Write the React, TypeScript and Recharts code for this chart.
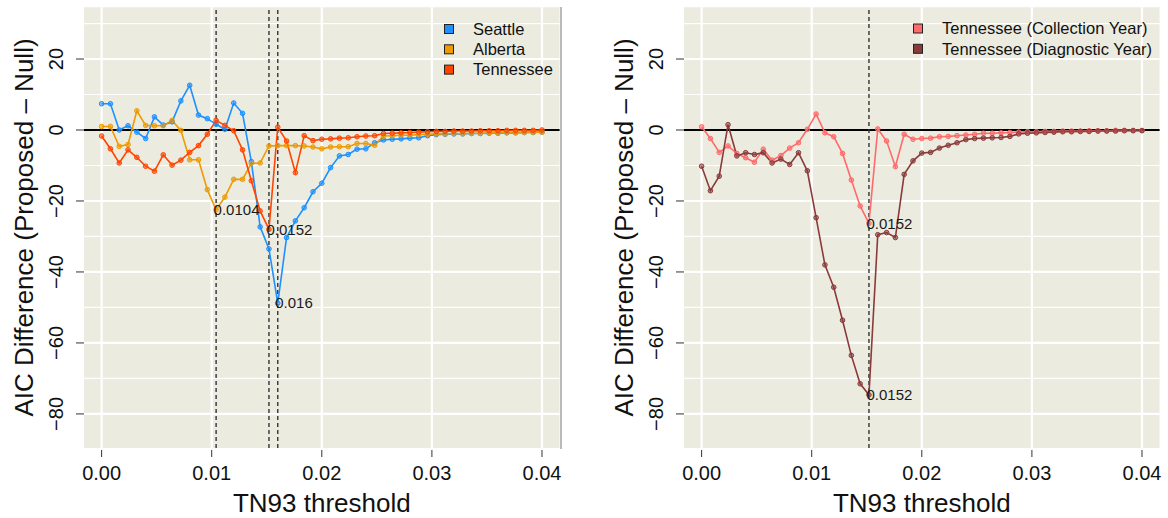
import React from 'react';
import { LineChart, Line, XAxis, YAxis, ReferenceLine, ReferenceArea } from 'recharts';

const thresholds = [
  0, 0.0008, 0.0016, 0.0024, 0.0032, 0.004, 0.0048, 0.0056, 0.0064, 0.0072,
  0.008, 0.0088, 0.0096, 0.0104, 0.0112, 0.012, 0.0128, 0.0136, 0.0144, 0.0152,
  0.016, 0.0168, 0.0176, 0.0184, 0.0192, 0.02, 0.0208, 0.0216, 0.0224, 0.0232,
  0.024, 0.0248, 0.0256, 0.0264, 0.0272, 0.028, 0.0288, 0.0296, 0.0304, 0.0312,
  0.032, 0.0328, 0.0336, 0.0344, 0.0352, 0.036, 0.0368, 0.0376, 0.0384, 0.0392, 0.04,
];

const seattle = [
  7.4, 7.4, 0, 1.2, -0.6, -2.4, 3.7, 1.4, 2.3, 8.2, 12.6, 4.2, 3.2, 1.6,
  0.2, 7.6, 4.7, -8.9, -27.3, -33.5, -48.8, -30.3, -25.6, -21.9, -17.4, -15.0, -10.6,
  -7.3, -6.9, -5.4, -5.3, -3.6, -2.8, -2.6, -2.5, -2.3, -2.2, -1.6, -1.3,
  -1.2, -1.1, -1.1, -1.0, -1.0, -0.9, -0.9, -0.8, -0.8, -0.7, -0.7, -0.6,
];
const alberta = [
  1.0, 1.0, -4.6, -4.1, 5.4, 1.3, 1.2, 1.2, 2.7, -0.1, -8.4, -8.4, -16.8, -22.5,
  -18.9, -13.9, -13.9, -9.4, -9.3, -4.5, -4.4, -4.4, -4.4, -4.5, -4.8, -5.3, -4.8,
  -4.7, -4.7, -3.8, -3.8, -4.3, -1.7, -1.6, -1.5, -1.5, -1.3, -1.2, -1.1,
  -1.1, -1.0, -1.0, -0.9, -0.9, -0.8, -0.8, -0.7, -0.7, -0.7, -0.6, -0.6,
];
const tennessee = [
  -1.7, -5.3, -9.3, -5.6, -7.7, -10.2, -11.6, -7.0, -9.9, -8.5, -6.3, -4.4, -1.2, 2.7,
  1.3, -0.2, -5.6, -14.3, -22.8, -28.0, 0.8, -3.1, -12.0, -1.6, -3.0, -2.6, -2.5,
  -2.3, -2.2, -1.9, -1.7, -1.6, -1.0, -0.9, -0.8, -0.7, -0.6, -0.5, -0.4,
  -0.4, -0.3, -0.3, -0.3, -0.2, -0.2, -0.2, -0.1, -0.1, -0.1, -0.1, 0,
];
const collectionYear = [
  0.9, -2.4, -6.3, -4.5, -6.6, -7.8, -9.1, -5.4, -8.5, -7.2, -5.1, -3.6,
  0.2, 4.5, -0.8, -1.9, -6.6, -14.1, -21.4, -26.3, 0.3, -3.1, -10.3, -1.2,
  -2.6, -2.4, -2.3, -1.9, -1.8, -1.6, -1.4, -1.2, -0.9, -0.9, -0.8, -0.7, -0.6,
  -0.5, -0.5, -0.4, -0.4, -0.3, -0.3, -0.3, -0.2, -0.2, -0.2, -0.1, -0.1, -0.1, -0.1,
];
const diagnosticYear = [
  -10.2, -17.1, -13.0, 1.5, -7.3, -6.4, -6.9, -6.4, -9.3, -8.2, -9.7, -6.4,
  -11.5, -24.7, -38.0, -44.3, -53.6, -63.5, -71.5, -74.6, -29.5, -28.9, -30.3, -12.5,
  -8.7, -6.5, -6.3, -5.1, -4.3, -3.6, -2.7, -2.4, -2.3, -2.2, -2.1, -1.8, -1.1,
  -0.9, -0.8, -0.7, -0.6, -0.5, -0.5, -0.4, -0.4, -0.3, -0.3, -0.3, -0.2, -0.2, -0.2,
];

const xTicks = [0, 0.01, 0.02, 0.03, 0.04];
const xTickLabels = ['0.00', '0.01', '0.02', '0.03', '0.04'];
const yTicks = [-80, -60, -40, -20, 0, 20];
const yTickLabels = ['\u221280', '\u221260', '\u221240', '\u221220', '0', '20'];
const yMinor = [-70, -50, -30, -10, 10, 30];
const X_DOMAIN: [number, number] = [-0.0016, 0.0416];
const Y_DOMAIN: [number, number] = [-89.6, 34.6];

const leftVLines = [0.0104, 0.0152, 0.016];
const rightVLines = [0.0152];

const FONT = '"Liberation Sans", Arial, Helvetica, sans-serif';
const BG = '#ECEBE0';

const leftRows = thresholds.map((t, i) => ({ t, seattle: seattle[i], alberta: alberta[i], tennessee: tennessee[i] }));
const rightRows = thresholds.map((t, i) => ({ t, collection: collectionYear[i], diagnostic: diagnosticYear[i] }));

type SeriesDef = { key: string; name: string; color: string; labelIdx?: number; labelText?: string };

const leftSeries: SeriesDef[] = [
  { key: 'seattle', name: 'Seattle', color: '#1E90FF', labelIdx: 20, labelText: '0.016' },
  { key: 'alberta', name: 'Alberta', color: '#EE9A00', labelIdx: 13, labelText: '0.0104' },
  { key: 'tennessee', name: 'Tennessee', color: '#FF4500', labelIdx: 19, labelText: '0.0152' },
];
const rightSeries: SeriesDef[] = [
  { key: 'collection', name: 'Tennessee (Collection Year)', color: '#FF6A6A', labelIdx: 19, labelText: '0.0152' },
  { key: 'diagnostic', name: 'Tennessee (Diagnostic Year)', color: '#8B3A3A', labelIdx: 19, labelText: '0.0152' },
];

const XTick = (props: any) => {
  const { x, y, payload } = props;
  const idx = xTicks.indexOf(payload.value);
  return (
    <g>
      <line x1={x} x2={x} y1={y + 2} y2={y + 9} stroke="#333" strokeWidth={1} />
      <text x={x} y={y + 32} textAnchor="middle" fontSize={20} fontFamily={FONT} fill="#111">
        {idx >= 0 ? xTickLabels[idx] : String(payload.value)}
      </text>
    </g>
  );
};

const YTick = (props: any) => {
  const { x, y, payload } = props;
  const idx = yTicks.indexOf(payload.value);
  const tx = x - 21;
  return (
    <g>
      <line x1={x - 8} x2={x} y1={y} y2={y} stroke="#333" strokeWidth={1} />
      <text x={tx} y={y} transform={`rotate(-90, ${tx}, ${y})`} textAnchor="middle" fontSize={20} fontFamily={FONT} fill="#111">
        {idx >= 0 ? yTickLabels[idx] : String(payload.value)}
      </text>
    </g>
  );
};

const makeLabel = (idx?: number, text?: string) => (props: any) => {
  if (idx === undefined || props.index !== idx) return <g />;
  return (
    <text x={props.x - 2.5} y={props.y} dy="0.35em" fontSize={15} fontFamily={FONT} fill="#1a1a1a">
      {text}
    </text>
  );
};

const Panel = ({ rows, series, vlines, width }: { rows: any[]; series: SeriesDef[]; vlines: number[]; width: number }) => (
  <LineChart width={width} height={518} data={rows} margin={{ top: 7.2, right: width - 559.6, bottom: 0, left: 0 }}>
    <XAxis
      dataKey="t"
      type="number"
      domain={X_DOMAIN}
      ticks={xTicks}
      interval={0}
      allowDataOverflow
      tickSize={0}
      tickMargin={0}
      axisLine={false}
      tick={<XTick />}
      height={70}
    />
    <YAxis
      type="number"
      domain={Y_DOMAIN}
      ticks={yTicks}
      interval={0}
      allowDataOverflow
      tickSize={0}
      tickMargin={0}
      axisLine={false}
      tick={<YTick />}
      width={84}
    />
    <ReferenceArea x1={X_DOMAIN[0]} x2={X_DOMAIN[1]} y1={Y_DOMAIN[0]} y2={Y_DOMAIN[1]} fill={BG} fillOpacity={1} stroke="none" />
    {yMinor.map((v) => (
      <ReferenceLine key={'ym' + v} y={v} stroke="#FFFFFF" strokeWidth={1.2} />
    ))}
    {yTicks.map((v) => (
      <ReferenceLine key={'yM' + v} y={v} stroke="#FFFFFF" strokeWidth={2.2} />
    ))}
    {xTicks.map((v) => (
      <ReferenceLine key={'xM' + v} x={v} stroke="#FFFFFF" strokeWidth={2.2} />
    ))}
    <ReferenceLine y={0} stroke="#000000" strokeWidth={2} />
    {vlines.map((v) => (
      <ReferenceLine key={'vl' + v} x={v} stroke="#333333" strokeWidth={1.4} strokeDasharray="4 3" />
    ))}
    {series.map((s) => (
      <Line
        key={s.key}
        dataKey={s.key}
        name={s.name}
        type="linear"
        stroke={s.color}
        strokeWidth={1.6}
        dot={{ r: 2.3, fill: s.color, fillOpacity: 0.55, stroke: s.color, strokeWidth: 1 }}
        activeDot={false}
        isAnimationActive={false}
        label={makeLabel(s.labelIdx, s.labelText)}
      />
    ))}
  </LineChart>
);

const LegendBlock = ({ series, left, textLeft, top }: { series: SeriesDef[]; left: number; textLeft: number; top: number }) => (
  <g>
    {series.map((s, i) => (
      <g key={s.key}>
        <rect x={left} y={top + i * 20.3 - 4.5} width={9} height={9} fill={s.color} stroke="#222" strokeWidth={1} />
        <text x={textLeft} y={top + i * 20.3} dy="0.35em" fontSize={16.5} fontFamily={FONT} fill="#111">
          {s.name}
        </text>
      </g>
    ))}
  </g>
);

const Titles = ({ offset }: { offset: number }) => (
  <g>
    <text
      x={offset + 33}
      y={227.5}
      transform={`rotate(-90, ${offset + 33}, 227.5)`}
      textAnchor="middle"
      fontSize={26}
      fontFamily={FONT}
      fill="#111"
    >
      AIC Difference (Proposed – Null)
    </text>
    <text x={offset + 321.8} y={512} textAnchor="middle" fontSize={26} fontFamily={FONT} fill="#111">
      TN93 threshold
    </text>
  </g>
);

export default function App() {
  return (
    <div style={{ position: 'absolute', left: 0, top: 0, width: 1168, height: 518, background: '#FFFFFF', fontFamily: FONT, overflow: 'hidden' }}>
      <div style={{ position: 'absolute', left: 0, top: 0 }}>
        <Panel rows={leftRows} series={leftSeries} vlines={leftVLines} width={600} />
      </div>
      <div style={{ position: 'absolute', left: 600, top: 0 }}>
        <Panel rows={rightRows} series={rightSeries} vlines={rightVLines} width={568} />
      </div>
      <svg width={1168} height={518} style={{ position: 'absolute', left: 0, top: 0, pointerEvents: 'none' }}>
        <line x1={561} x2={561} y1={7} y2={449} stroke="#777" strokeWidth={1} />
        <Titles offset={0} />
        <Titles offset={600} />
        <LegendBlock series={leftSeries} left={444.5} textLeft={473} top={29} />
        <LegendBlock series={rightSeries} left={913.5} textLeft={942} top={28.5} />
      </svg>
    </div>
  );
}
